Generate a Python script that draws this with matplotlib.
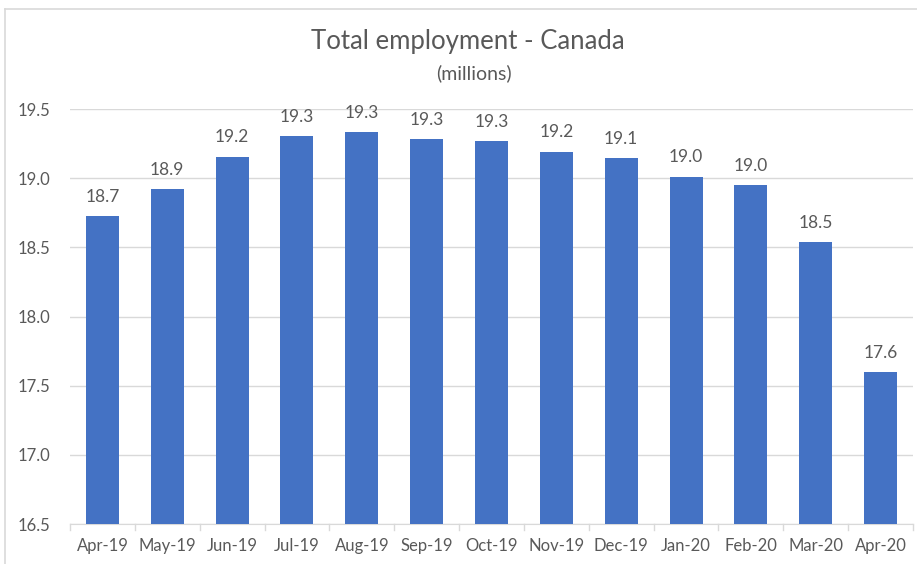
import matplotlib
matplotlib.use("Agg")
import matplotlib.pyplot as plt
from matplotlib.lines import Line2D

months = ["Apr-19", "May-19", "Jun-19", "Jul-19", "Aug-19", "Sep-19", "Oct-19",
          "Nov-19", "Dec-19", "Jan-20", "Feb-20", "Mar-20", "Apr-20"]
employment = [18.726, 18.921, 19.156, 19.305, 19.332, 19.284, 19.269,
              19.192, 19.144, 19.012, 18.953, 18.536, 17.597]
yticks = [16.5, 17.0, 17.5, 18.0, 18.5, 19.0, 19.5]

plt.rcParams['font.family'] = ['Lato', 'DejaVu Sans']
text_color = "#595959"

fig = plt.figure(figsize=(9.17, 5.64), dpi=100)
ax = fig.add_axes([70/917, 40/564, (913-70)/917, (524-109)/564])

x = list(range(len(months)))
ax.bar(x, employment, width=0.51, color="#4472C4", zorder=3)
ax.set_xlim(-0.5, len(months) - 0.5)
ax.set_ylim(16.5, 19.5)
ax.set_yticks(yticks)
ax.set_yticklabels([f"{v:.1f}" for v in yticks], color=text_color, fontsize=12)
ax.set_xticks(x)
ax.set_xticklabels(months, color=text_color, fontsize=12)
ax.tick_params(axis='y', length=0, pad=14)
ax.tick_params(axis='x', length=0, pad=10)
ax.grid(axis='y', color="#d9d9d9", linewidth=1, zorder=0)
for s in ["top", "right", "left"]:
    ax.spines[s].set_visible(False)
ax.spines["bottom"].set_color("#d9d9d9")

# category tick marks between labels
for i in range(len(months) + 1):
    ax.plot([i - 0.5, i - 0.5], [16.5, 16.5 - 0.045], color="#d9d9d9", lw=1,
            clip_on=False, zorder=2)

for xi, v in zip(x, employment):
    ax.annotate(f"{v:.1f}", (xi, v), xytext=(0, 8), textcoords="offset points",
                ha="center", va="bottom", color=text_color, fontsize=12.5)

fig.text(468/917, 1 - 42/564, "Total employment - Canada", ha="center", va="center",
         fontsize=18.5, color=text_color)
fig.text(474/917, 1 - 73/564, "(millions)", ha="center", va="center",
         fontsize=14, color=text_color)

# outer chart border
fig.add_artist(Line2D([5/917, 1], [1 - 9/564, 1 - 9/564], color="#d9d9d9", lw=1.2,
                      transform=fig.transFigure))
fig.add_artist(Line2D([5/917, 5/917], [0, 1 - 9/564], color="#d9d9d9", lw=1.2,
                      transform=fig.transFigure))

fig.savefig("out.png", dpi=100)
